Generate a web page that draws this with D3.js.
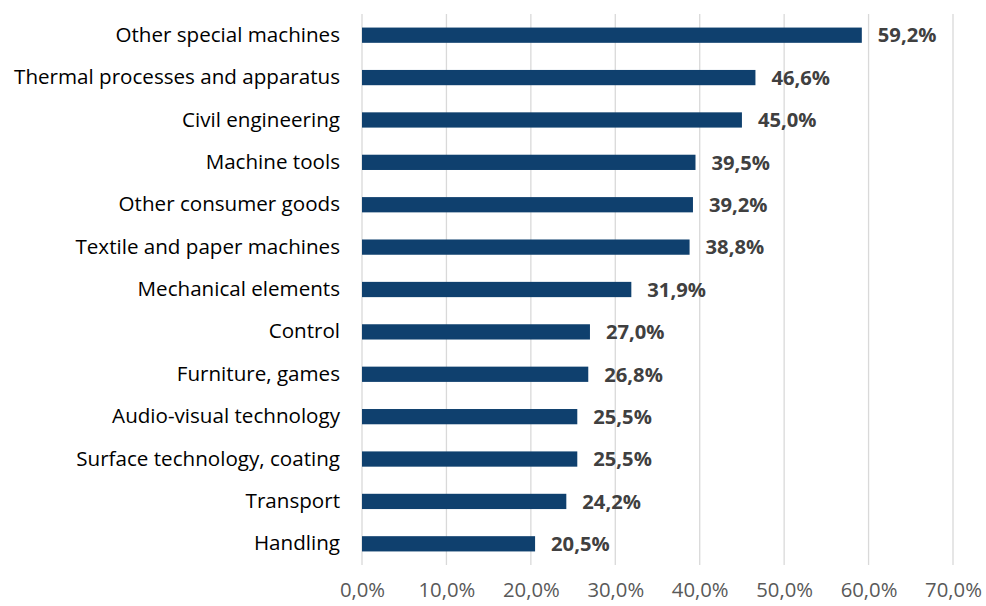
<!DOCTYPE html>
<html>
<head>
<meta charset="utf-8">
<script src="https://cdn.jsdelivr.net/npm/d3@7"></script>
<style>
  body { margin: 0; background: #fff; }
  text { font-family: "Open Sans", Lato, sans-serif; }
</style>
</head>
<body>
<div id="chart"></div>
<script>
const categories = [
    "Other special machines",
    "Thermal processes and apparatus",
    "Civil engineering",
    "Machine tools",
    "Other consumer goods",
    "Textile and paper machines",
    "Mechanical elements",
    "Control",
    "Furniture, games",
    "Audio-visual technology",
    "Surface technology, coating",
    "Transport",
    "Handling"
];
const shares = [59.2, 46.6, 45.0, 39.5, 39.2, 38.8, 31.9, 27.0, 26.8, 25.5, 25.5, 24.2, 20.5];
const xTicks = [0, 10, 20, 30, 40, 50, 60, 70];

const width = 986, height = 606;
const margin = { top: 14, right: 33, bottom: 41, left: 362 };
const fontStack = "'Open Sans', Lato, sans-serif";

const locale = d3.formatLocale({ decimal: ",", thousands: ".", grouping: [3], currency: ["", "€"] });
const fmt = locale.format(".1f");

const svg = d3.select("#chart").append("svg")
    .attr("width", width)
    .attr("height", height);

const x = d3.scaleLinear().domain([0, 70]).range([margin.left, width - margin.right]);
const y = d3.scaleBand().domain(categories).range([margin.top, height - margin.bottom]).paddingInner(0.64).paddingOuter(0.32);

// Gridlines
svg.append("g")
    .selectAll("line")
    .data(xTicks)
    .enter()
    .append("line")
    .attr("x1", d => x(d))
    .attr("x2", d => x(d))
    .attr("y1", margin.top)
    .attr("y2", height - margin.bottom)
    .attr("stroke", "#d9d9d9")
    .attr("stroke-width", 1.3);

// Bars
svg.selectAll("rect.bar")
    .data(shares)
    .enter()
    .append("rect")
    .attr("class", "bar")
    .attr("x", x(0))
    .attr("y", (d, i) => y(categories[i]))
    .attr("width", d => x(d) - x(0))
    .attr("height", y.bandwidth())
    .attr("fill", "#0f406e");

// Value labels
svg.selectAll("text.val")
    .data(shares)
    .enter()
    .append("text")
    .attr("class", "val")
    .attr("x", d => x(d) + 16)
    .attr("y", (d, i) => y(categories[i]) + y.bandwidth() / 2)
    .attr("dy", "0.36em")
    .attr("font-size", 20.2)
    .attr("font-weight", "bold")
    .attr("fill", "#404040")
    .text(d => fmt(d) + "%");

// Y axis (category labels)
const yAxis = d3.axisLeft(y).tickSize(0).tickPadding(22);
const yg = svg.append("g")
    .attr("transform", `translate(${margin.left},0)`)
    .call(yAxis);
yg.select(".domain").remove();
yg.selectAll("text")
    .attr("font-size", 20.6)
    .attr("fill", "#000")
    .style("font-family", fontStack);

// X axis
const xAxis = d3.axisBottom(x).tickValues(xTicks).tickSize(0).tickPadding(18).tickFormat(d => fmt(d) + "%");
const xg = svg.append("g")
    .attr("transform", `translate(0,${height - margin.bottom})`)
    .call(xAxis);
xg.select(".domain").remove();
xg.selectAll("text")
    .attr("font-size", 20.3)
    .attr("fill", "#595959")
    .style("font-family", fontStack);
</script>
</body>
</html>
